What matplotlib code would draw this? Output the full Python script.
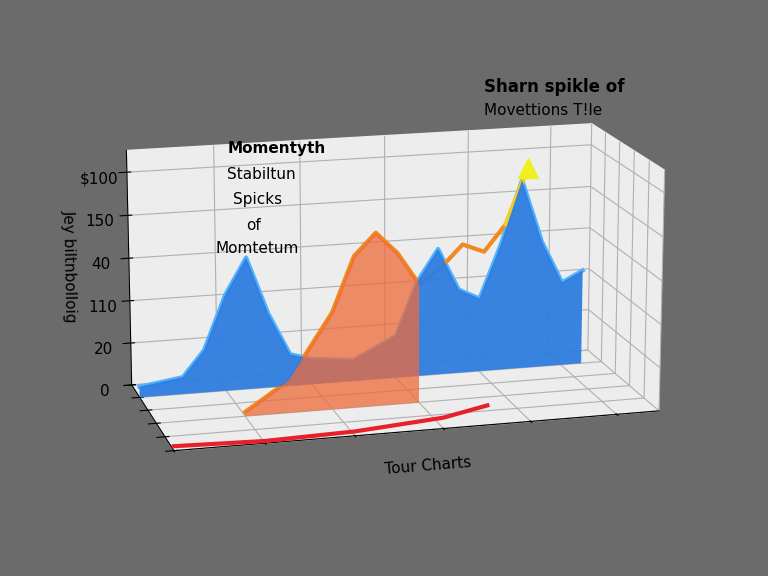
import matplotlib
matplotlib.use("Agg")
import matplotlib.pyplot as plt
import numpy as np
from mpl_toolkits.mplot3d.art3d import Poly3DCollection

x_blue = [0, 1, 1.5, 2, 2.5, 3, 3.5, 4, 5, 6, 6.5, 7, 7.5, 8, 8.5, 9, 9.5, 10, 10.5]
z_blue = [5, 8, 20, 45, 62, 35, 15, 12, 10, 20, 45, 60, 40, 35, 60, 90, 60, 40, 45]
x_orange = [2, 3, 4, 4.5, 5, 5.5, 6, 6.5, 7, 7.5, 8, 8.5]
z_orange = [2, 15, 45, 70, 80, 70, 55, 62, 72, 68, 80, 105]
x_red = [0, 2, 4, 6, 7]
z_red = [2, 1, 2, 5, 9]
z_ticks = [0, 20, 40, 60, 80, 100]
z_labels = ["0", "20", "110", "40", "150", "$100"]

fig = plt.figure(figsize=(7.68, 5.76), dpi=100, facecolor="#6b6b6b")
ax = fig.add_subplot(111, projection="3d", facecolor="#6b6b6b")
ax.set_position([0.0, 0.0, 1.0, 1.0])

def area(xs, zs, y, color, alpha):
    verts = [(xs[0], y, 0)] + [(a, y, b) for a, b in zip(xs, zs)] + [(xs[-1], y, 0)]
    ax.add_collection3d(Poly3DCollection([verts], facecolors=color, alpha=alpha, edgecolors="none"))

area(x_blue, z_blue, 4, "#2f7de0", 0.95)
ax.plot(x_blue, [4]*len(x_blue), z_blue, color="#4fb3ff", lw=3)
area(x_orange[:7], z_orange[:7], 2, "#ef6a3a", 0.75)
ax.plot(x_orange, [2]*len(x_orange), z_orange, color="#f08a20", lw=3)
ax.plot([x_orange[-2], x_orange[-1]], [2, 2], [z_orange[-2], z_orange[-1]], color="#f0d020", lw=3)
ax.plot([x_orange[-1]], [2], [z_orange[-1]], marker="^", ms=14, color="#f0f020")
ax.plot(x_red, [0]*len(x_red), z_red, color="#e8202a", lw=3)

ax.set_xlim(0, 11); ax.set_ylim(0, 5); ax.set_zlim(0, 110)
ax.set_zticks(z_ticks); ax.set_zticklabels(z_labels, fontsize=11)
ax.set_xticks(range(0, 12, 2)); ax.set_xticklabels([])
ax.set_yticks(range(0, 6)); ax.set_yticklabels([])
for a in (ax.xaxis, ax.yaxis, ax.zaxis):
    a.set_pane_color((0.93, 0.93, 0.93, 1.0))
ax.set_xlabel("Tour Charts", fontsize=11)
ax.set_zlabel("Jey biltnbolloig", fontsize=11)
ax.view_init(elev=15, azim=-105)
ax.set_box_aspect((2.2, 1, 1.1))

fig.text(0.63, 0.84, "Sharn spikle of", fontsize=12, weight="bold", ha="left")
fig.text(0.63, 0.80, "Movettions T!le", fontsize=11, ha="left")
fig.text(0.36, 0.735, "Momentyth", fontsize=11, weight="bold", ha="center")
fig.text(0.34, 0.69, "Stabiltun", fontsize=11, ha="center")
fig.text(0.335, 0.645, "Spicks", fontsize=11, ha="center")
fig.text(0.33, 0.60, "of", fontsize=11, ha="center")
fig.text(0.335, 0.56, "Momtetum", fontsize=11, ha="center")
fig.savefig("out.png", dpi=100, facecolor=fig.get_facecolor())
